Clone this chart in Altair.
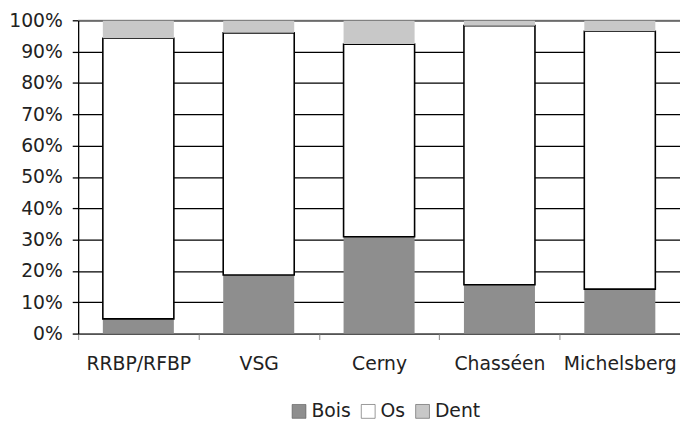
import altair as alt
import pandas as pd

categories = ["RRBP/RFBP", "VSG", "Cerny", "Chasséen", "Michelsberg"]
bois = [4.7, 18.7, 30.9, 15.6, 14.2]
os_vals = [89.6, 77.3, 61.5, 82.7, 82.3]
dent = [5.7, 4.0, 7.6, 1.7, 3.5]
series = ["Bois", "Os", "Dent"]
colors = ["#8e8e8e", "#ffffff", "#c8c8c8"]
y_ticks = [0.0, 0.1, 0.2, 0.3, 0.4, 0.5, 0.6, 0.7, 0.8, 0.9, 1.0]

rows = []
for i, c in enumerate(categories):
    for j, (s, vals) in enumerate(zip(series, [bois, os_vals, dent])):
        rows.append({"cat": c, "type": s, "value": vals[i], "ord": j})
df = pd.DataFrame(rows)

FONT = "DejaVu Sans"
FS = 19

y_axis = alt.Axis(format=".0%", values=y_ticks, labelOverlap=False,
                  grid=True, gridColor="#000000", gridWidth=1.3,
                  domainColor="#000000", domainWidth=1.3,
                  tickColor="#000000", tickSize=6, tickWidth=1.3,
                  labelFont=FONT, labelFontSize=FS, labelColor="#222222",
                  labelPadding=10)
y_scale = alt.Scale(domain=[0, 1])

bars = alt.Chart(df).mark_bar(width=alt.RelativeBandSize(0.59), strokeWidth=1.6).encode(
    x=alt.X("cat:N", sort=categories, title=None,
            scale=alt.Scale(paddingInner=0, paddingOuter=0),
            axis=alt.Axis(labelAngle=0, tickBand="extent", tickSize=6,
                          tickColor="#888888", domainColor="#666666",
                          labelFont=FONT, labelFontSize=FS, labelColor="#222222",
                          labelPadding=15, grid=False)),
    y=alt.Y("value:Q", stack="normalize", title=None, scale=y_scale, axis=y_axis),
    color=alt.Color("type:N", sort=series,
                    scale=alt.Scale(domain=series, range=colors),
                    legend=alt.Legend(title=None, orient="none", direction="horizontal",
                                      legendX=214, legendY=386,
                                      symbolType="square", symbolSize=196,
                                      symbolStrokeColor="#555555", symbolStrokeWidth=0.6,
                                      labelFont=FONT, labelFontSize=FS, labelColor="#222222",
                                      columnPadding=8, labelOffset=3, padding=0)),
    stroke=alt.condition(alt.datum.type == "Os", alt.value("#000000"), alt.value("transparent")),
    order=alt.Order("ord:Q"),
)

top = alt.Chart(pd.DataFrame({"v": [1.0]})).mark_rule(color="#777777", strokeWidth=1).encode(
    y=alt.Y("v:Q", title=None, scale=y_scale, axis=y_axis)
)

chart = alt.layer(bars, top).properties(
    width=609, height=317,
    autosize=alt.AutoSizeParams(type="none"),
    padding={"left": 71, "top": 10, "right": 0, "bottom": 86},
).configure_view(stroke=None)

chart.save("out.html", embed_options={"renderer": "svg", "actions": False})
